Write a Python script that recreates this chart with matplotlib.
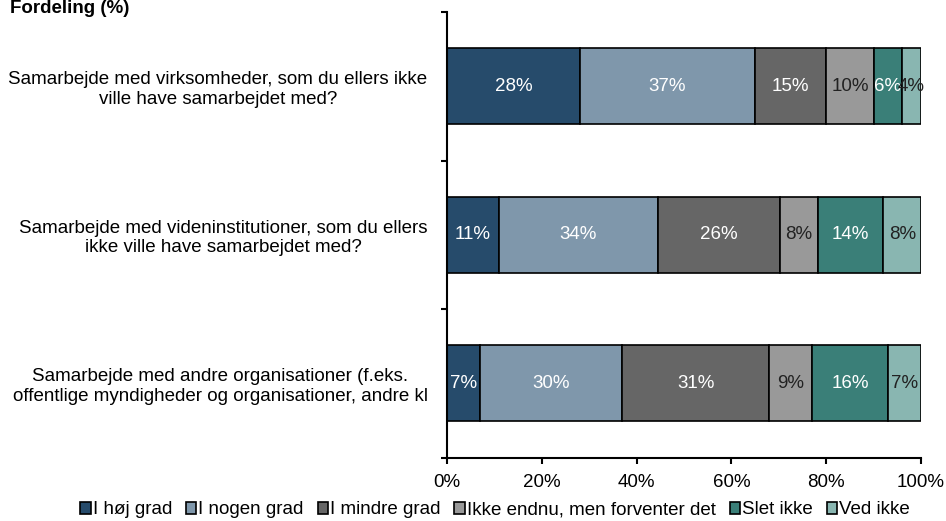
import numpy as np
import matplotlib.pyplot as plt
from matplotlib.patches import Patch

plt.rcParams['font.family'] = ['Liberation Sans', 'DejaVu Sans']

# Questions (top to bottom) and answer categories
questions = [
    'Samarbejde med virksomheder, som du ellers ikke\nville have samarbejdet med?',
    'Samarbejde med videninstitutioner, som du ellers\nikke ville have samarbejdet med?',
    'Samarbejde med andre organisationer (f.eks.\noffentlige myndigheder og organisationer, andre kl',
]
answers = ['I høj grad', 'I nogen grad', 'I mindre grad',
           'Ikke endnu, men forventer det', 'Slet ikke', 'Ved ikke']

# Share of respondents (%) per answer, one row per question
shares = np.array([
    [28, 37, 15, 10, 6, 4],
    [11, 34, 26, 8, 14, 8],
    [7, 30, 31, 9, 16, 7],
], dtype=float)

colors = ['#264b6b', '#7f97ab', '#666666', '#999999', '#3a7f78', '#89b6b1']
text_colors = ['white', 'white', 'white', '#222222', 'white', '#222222']

fs = 13.5

fig = plt.figure(figsize=(9.46, 5.21), dpi=100)
ax = fig.add_axes([447/946, 1 - 457.5/521, 474/946, 445.5/521])

# 100% stacked: each row is scaled to sum to one
widths = shares / shares.sum(axis=1, keepdims=True)
lefts = np.cumsum(widths, axis=1) - widths
y = np.arange(len(questions))

for j, ans in enumerate(answers):
    bars = ax.barh(y, widths[:, j], left=lefts[:, j], height=0.51,
                   color=colors[j], edgecolor='black', linewidth=1.2)
    for i, b in enumerate(bars):
        ax.text(b.get_x() + b.get_width() / 2, b.get_y() + b.get_height() / 2,
                f'{shares[i, j]:.0f}%', ha='center', va='center',
                fontsize=fs, color=text_colors[j])

ax.set_xlim(0, 1)
ax.set_ylim(len(questions) - 0.5, -0.5)

ax.set_xticks(np.linspace(0, 1, 6))
ax.set_xticklabels([f'{int(v)}%' for v in np.linspace(0, 100, 6)], fontsize=fs)
ax.set_yticks(y)
ax.set_yticklabels(questions, fontsize=fs, multialignment='center', linespacing=1.2)
ax.tick_params(axis='y', length=0, pad=14)
ax.set_yticks(np.arange(-0.5, len(questions)), minor=True)
ax.tick_params(axis='y', which='minor', length=4, width=1.5)
ax.tick_params(axis='x', length=4, width=1.5, pad=8)

for s in ['top', 'right']:
    ax.spines[s].set_visible(False)
for s in ['left', 'bottom']:
    ax.spines[s].set_linewidth(1.5)

fig.text(10/946, 1.0, 'Fordeling (%)', fontsize=fs, fontweight='bold', va='top')

handles = [Patch(facecolor=c, edgecolor='black', linewidth=1.2) for c in colors]
fig.legend(handles, answers, loc='center', bbox_to_anchor=(495/946, 1 - 510/521),
           ncol=6, frameon=False, fontsize=fs, handlelength=0.55, handleheight=0.55,
           handletextpad=0.1, columnspacing=0.75, borderpad=0)

fig.savefig('out.png', dpi=100)
